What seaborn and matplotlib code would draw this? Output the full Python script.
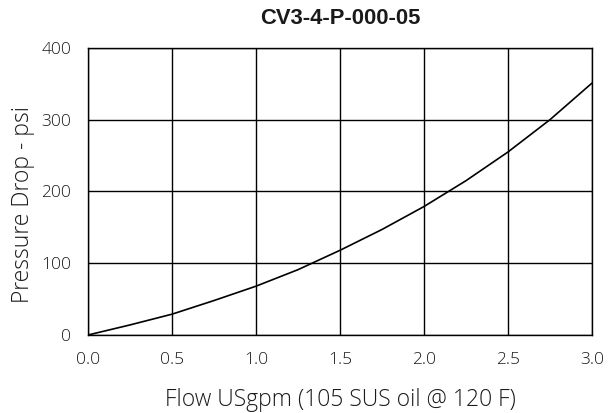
import numpy as np
import pandas as pd
import matplotlib
matplotlib.use("Agg")
import matplotlib.pyplot as plt
import seaborn as sns

# values
flow = [0.0, 0.25, 0.5, 0.75, 1.0, 1.25, 1.5, 1.75, 2.0, 2.25, 2.5, 2.75, 3.0]
pressure = [0, 14, 29, 48, 68, 91, 118, 147, 179, 215, 255, 300, 351]
x_ticks = [0.0, 0.5, 1.0, 1.5, 2.0, 2.5, 3.0]
y_ticks = [0, 100, 200, 300, 400]

df = pd.DataFrame({"flow": flow, "pressure": pressure})

sns.set_style("white")
plt.rcParams["font.family"] = ["Open Sans", "DejaVu Sans"]
plt.rcParams["font.weight"] = "light"

fig = plt.figure(figsize=(6.09, 4.13), dpi=100)
ax = fig.add_axes([0.1445, 0.1889, 0.8275, 0.695])

sns.lineplot(data=df, x="flow", y="pressure", color="black", linewidth=1.2, ax=ax)

ax.set_xlim(0, 3)
ax.set_ylim(0, 400)
ax.set_xticks(x_ticks)
ax.set_xticklabels([f"{v:.1f}" for v in x_ticks])
ax.set_yticks(y_ticks)
ax.grid(True, color="black", linewidth=1.0)
ax.set_axisbelow(True)
for s in ax.spines.values():
    s.set_color("black")
    s.set_linewidth(1.0)
ax.tick_params(length=0, labelsize=12.5, labelcolor="#1a1a1a", pad=12)

ax.set_xlabel("Flow USgpm (105 SUS oil @ 120 F)", fontsize=16.5, color="#1a1a1a",
              fontweight="light", labelpad=15)
ax.set_ylabel("Pressure Drop - psi", fontsize=16.5, color="#1a1a1a",
              fontweight="light")
ax.yaxis.set_label_coords(-0.105, 0.453)
ax.set_title("CV3-4-P-000-05", fontsize=15.8, fontweight="bold", color="#1a1a1a",
             pad=17, family=["Liberation Sans", "DejaVu Sans"])

fig.savefig("out.png", dpi=100)
